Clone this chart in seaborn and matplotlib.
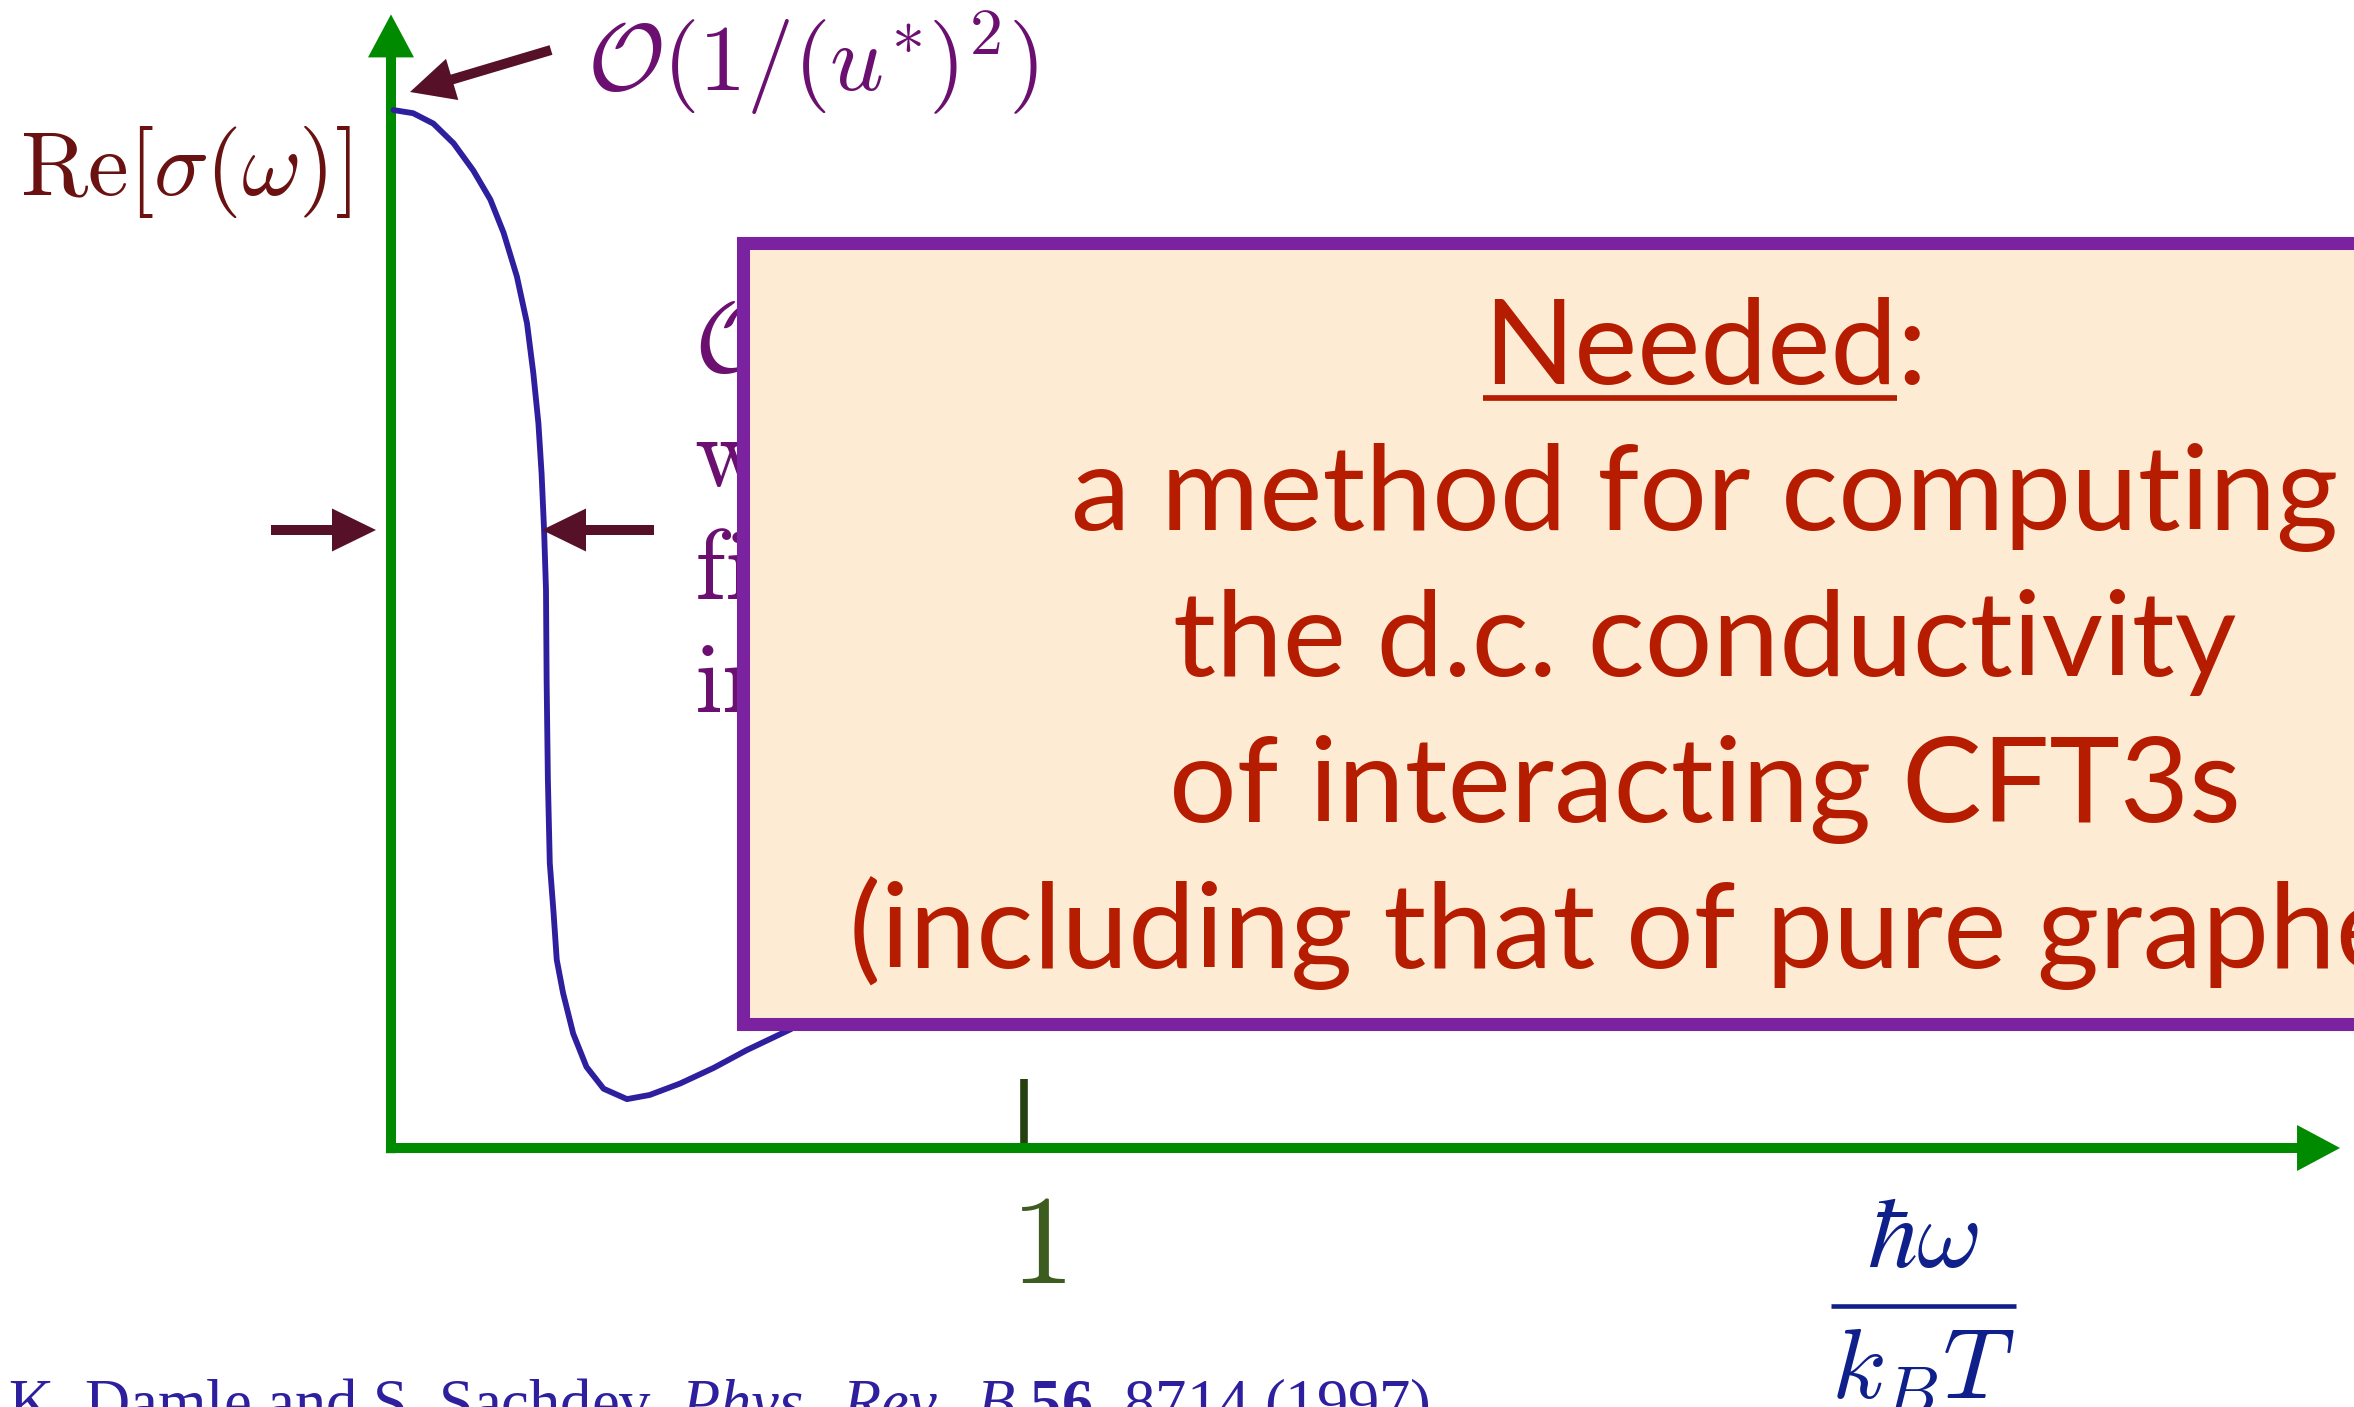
import matplotlib
matplotlib.use("Agg")
import matplotlib.pyplot as plt
from matplotlib.patches import Rectangle
import seaborn as sns

# Re[sigma(omega)]; x in units of hbar*omega/(k_B T), y scaled so the peak is 1
omega = [0.004, 0.035, 0.067, 0.099, 0.130, 0.157, 0.178, 0.199, 0.215, 0.225, 0.233,
         0.238, 0.242, 0.245, 0.246, 0.248, 0.251, 0.257, 0.262, 0.272, 0.288, 0.309,
         0.336, 0.373, 0.409, 0.457, 0.510, 0.562, 0.631, 0.694]
re_sigma = [0.998, 0.995, 0.985, 0.966, 0.940, 0.912, 0.880, 0.838, 0.793, 0.745, 0.697,
            0.649, 0.594, 0.537, 0.450, 0.354, 0.274, 0.226, 0.181, 0.149, 0.110, 0.078,
            0.057, 0.047, 0.051, 0.062, 0.077, 0.094, 0.114, 0.135]
tick_pos = [1]
tick_labels = [r"$1$"]

box_title = "Needed"
box_lines = ["a method for computing", "the d.c. conductivity",
             "of interacting CFT3s", "(including that of pure graphene)"]
side_lines = [r"$\mathcal{O}((u^*)^2)$", r"$\mathrm{width}$", r"$\mathrm{finite}$",
              r"$\mathrm{interactions}$"]
peak_label = r"$\mathcal{O}(1/(u^{\!*}\!)^2)$"
ylabel = r"$\mathrm{Re}[\sigma(\omega)]$"
xlabel_num = r"$\hbar\omega$"
xlabel_den = r"$k_BT$"
citation = r"K. Damle and S. Sachdev, $\mathit{Phys.\ Rev.\ B}$ $\mathbf{56}$, 8714 (1997)."

sns.set_theme(style="white")
plt.rcParams["mathtext.fontset"] = "custom"
plt.rcParams["mathtext.rm"] = "Liberation Serif"
plt.rcParams["mathtext.it"] = "Liberation Serif:italic"
plt.rcParams["mathtext.bf"] = "Liberation Serif:bold"
plt.rcParams["font.family"] = ["Liberation Serif", "DejaVu Sans"]

W, H = 2354, 1407
fig = plt.figure(figsize=(W / 100, H / 100), dpi=100)
fig.patch.set_facecolor("white")

# main axes in physical units: origin of the drawn axes at pixel (391, 1148)
ax = fig.add_axes([0, 0, 1, 1])
ax.set_xlim(-391 / 632.6, (W - 391) / 632.6)
ax.set_ylim(-(H - 1148) / 1040, 1148 / 1040)
ax.set_axis_off()

green = "#008a00"
arrow_style = "simple,head_length=0.86,head_width=0.92,tail_width=0.2"
ax.annotate("", xy=(0, 1.090), xytext=(0, -0.005),
            arrowprops=dict(arrowstyle=arrow_style, mutation_scale=36, color=green, lw=0,
                            shrinkA=0, shrinkB=0), zorder=3)
ax.annotate("", xy=(3.081, 0), xytext=(-0.008, 0),
            arrowprops=dict(arrowstyle=arrow_style, mutation_scale=36, color=green, lw=0,
                            shrinkA=0, shrinkB=0), zorder=3)
for t in tick_pos:
    ax.plot([t, t], [0.004, 0.066], color="#27400f", lw=5.5, solid_capstyle="butt", zorder=2)

sns.lineplot(x=omega, y=re_sigma, sort=False, color="#2e1f9e", linewidth=4.2, ax=ax, zorder=4)

# overlay in pixel coordinates for the slide annotations
ov = fig.add_axes([0, 0, 1, 1])
ov.set_xlim(0, W)
ov.set_ylim(H, 0)
ov.set_axis_off()

maroon = "#561028"
small_arrow = "simple,head_length=0.88,head_width=0.86,tail_width=0.2"
for tail, tip in [((551, 50), (410, 92)), ((271, 530), (376, 530)), ((654, 530), (542, 530))]:
    ov.annotate("", xy=tip, xytext=tail,
                arrowprops=dict(arrowstyle=small_arrow, mutation_scale=36, color=maroon, lw=0,
                                shrinkA=0, shrinkB=0))

ov.text(587, 92, peak_label, color="#6b1070", fontsize=68, math_fontfamily="cm", va="baseline")
ov.text(20, 195, ylabel, color="#6a1212", fontsize=66, math_fontfamily="cm", va="baseline")

for i, s in enumerate(side_lines):
    ov.text(694, 373 + 113 * i, s, color="#6b1070", fontsize=72, math_fontfamily="cm",
            va="baseline", zorder=2)

for t, lab in zip(tick_pos, tick_labels):
    ov.text(391 + 632.6 * t + 14, 1283, lab, color="#3d5c1f", fontsize=92, math_fontfamily="cm",
            ha="center", va="baseline")

navy = "#10208a"
ov.text(1923, 1267, xlabel_num, color=navy, fontsize=72, math_fontfamily="cm",
        ha="center", va="baseline")
ov.plot([1831, 2016], [1306, 1306], color=navy, lw=3.3, solid_capstyle="butt")
ov.text(1923, 1399, xlabel_den, color=navy, fontsize=72, math_fontfamily="cm",
        ha="center", va="baseline")

ov.text(8, 1376, citation, color="#2e1f9e", fontsize=45, math_fontfamily="custom", va="top")

# the "Needed" box
box = Rectangle((743, 242.5), 1700, 1024 - 242.5, facecolor="#fdebd4", edgecolor="#7b22a0",
                lw=9.4, zorder=5)
ov.add_patch(box)

red = "#b51c00"
box_font = ["Lato", "DejaVu Sans"]
box_size = 86
cx = 1705
title = ov.text(cx, 384, box_title + ":", color=red, fontsize=box_size, family=box_font,
                ha="center", va="baseline", zorder=6)
for i, s in enumerate(box_lines):
    ov.text(cx, 530 + 146 * i, s, color=red, fontsize=box_size, family=box_font,
            ha="center", va="baseline", zorder=6)

# underline only the word, not the colon
fig.canvas.draw()
r = fig.canvas.get_renderer()
probe = ov.text(0, 0, box_title, fontsize=box_size, family=box_font)
wpx = probe.get_window_extent(r).width
probe.remove()
bb = title.get_window_extent(r)
inv = ov.transData.inverted()
x0 = inv.transform((bb.x0, 0))[0]
x1 = inv.transform((bb.x0 + wpx, 0))[0]
ov.plot([x0, x1], [397.5, 397.5], color=red, lw=4.1, solid_capstyle="butt", zorder=6)

fig.savefig("out.png", dpi=100, facecolor="white")
